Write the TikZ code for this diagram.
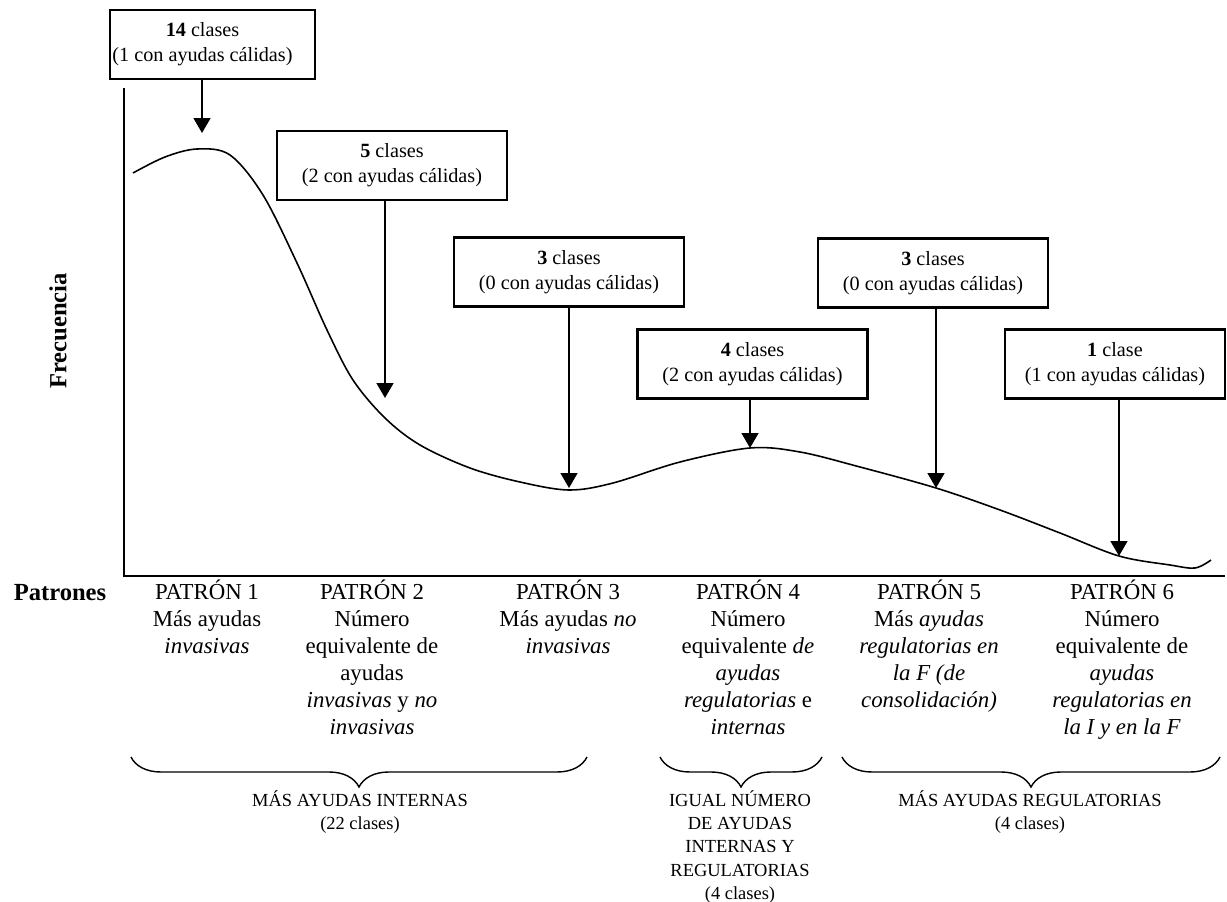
\documentclass[tikz,border=0pt]{standalone}
\usepackage{fontspec}
\setmainfont{Liberation Serif}
\usetikzlibrary{arrows.meta,decorations.pathreplacing}
\begin{document}
\begin{tikzpicture}[x=0.02cm, y=-0.02cm,
  caja/.style={draw, line width=1.3pt, align=center, minimum width=4.6cm, minimum height=1.38cm, inner sep=0pt, font=\fontsize{11.5}{14.2}\selectfont},
  flecha/.style={line width=0.9pt, -{Triangle[width=0.34cm, length=0.3cm]}},
  patron/.style={anchor=north, align=center, inner sep=0pt, font=\fontsize{13}{15.3}\selectfont},
  grupo/.style={anchor=north, align=center, inner sep=0pt, font=\fontsize{10.5}{13.3}\selectfont},
  llave/.style={line width=0.8pt, decorate, decoration={brace, mirror, amplitude=0.6cm}},
  eje/.style={line width=1.3pt},
  titulo/.style={font=\fontsize{14}{16}\selectfont\bfseries}]
\useasboundingbox (0,0) rectangle (1227,902);
\coordinate (origen) at (124,576);
\coordinate (ytop) at (124,88);
\coordinate (xfin) at (1225,576);
\draw[eje] (ytop) -- (origen) -- (xfin);
\draw[line width=0.9pt] plot[smooth, tension=0.55] coordinates {(133,173) (165,157) (197,149) (230,155) (263,195) (297,263) (327,330) (353,380) (385,418) (420,445) (470,468) (520,482) (569,490) (613,483) (680,462) (750,448) (800,452) (860,467) (936,488) (1000,510) (1060,533) (1119,556) (1170,565) (1195,568) (1211,560)};
\coordinate (t1) at (202,133);
\coordinate (t2) at (385,398);
\coordinate (t3) at (569,488);
\coordinate (t4) at (750,448);
\coordinate (t5) at (936,488);
\coordinate (t6) at (1119,556);
\node[caja, minimum width=4.1cm] (c1) at (212.5,44.5) {\textbf{14} clases\hspace*{0.4cm}\\(1 con ayudas cálidas)\hspace*{0.4cm}};
\node[caja] (c2) at (392,165.5) {\textbf{5} clases\\(2 con ayudas cálidas)};
\node[caja] (c3) at (569,272) {\textbf{3} clases\\(0 con ayudas cálidas)};
\node[caja] (c4) at (752.5,364) {\textbf{4} clases\\(2 con ayudas cálidas)};
\node[caja] (c5) at (933,273) {\textbf{3} clases\\(0 con ayudas cálidas)};
\node[caja, minimum width=4.4cm] (c6) at (1115,364) {\textbf{1} clase\\(1 con ayudas cálidas)};
\draw[flecha] (c1.south -| t1) -- (t1);
\draw[flecha] (c2.south -| t2) -- (t2);
\draw[flecha] (c3.south -| t3) -- (t3);
\draw[flecha] (c4.south -| t4) -- (t4);
\draw[flecha] (c5.south -| t5) -- (t5);
\draw[flecha] (c6.south -| t6) -- (t6);
\node[titulo, rotate=90] (frec) at (58,331) {Frecuencia};
\node[titulo] (patrones) at (60,593) {Patrones};
\node[patron] (p1) at (207,580) {PATRÓN 1\\Más ayudas\\\textit{invasivas}};
\node[patron] (p2) at (372,580) {PATRÓN 2\\Número\\equivalente de\\ayudas\\\textit{invasivas} y \textit{no}\\\textit{invasivas}};
\node[patron] (p3) at (568,580) {PATRÓN 3\\Más ayudas \textit{no}\\\textit{invasivas}};
\node[patron] (p4) at (748,580) {PATRÓN 4\\Número\\equivalente \textit{de}\\\textit{ayudas}\\\textit{regulatorias} e\\\textit{internas}};
\node[patron] (p5) at (929,580) {PATRÓN 5\\Más \textit{ayudas}\\\textit{regulatorias en}\\\textit{la F (de}\\\textit{consolidación)}};
\node[patron] (p6) at (1122,580) {PATRÓN 6\\Número\\equivalente de\\\textit{ayudas}\\\textit{regulatorias en}\\\textit{la I y en la F}};
\draw[llave] (131,757) -- (587,757);
\draw[llave] (660,757) -- (822,757);
\draw[llave] (842,757) -- (1220,757);
\node[grupo] (g1) at (360,790) {MÁS AYUDAS INTERNAS\\(22 clases)};
\node[grupo] (g2) at (740,790) {IGUAL NÚMERO\\DE AYUDAS\\INTERNAS Y\\REGULATORIAS\\(4 clases)};
\node[grupo] (g3) at (1030,790) {MÁS AYUDAS REGULATORIAS\\(4 clases)};
\end{tikzpicture}
\end{document}
